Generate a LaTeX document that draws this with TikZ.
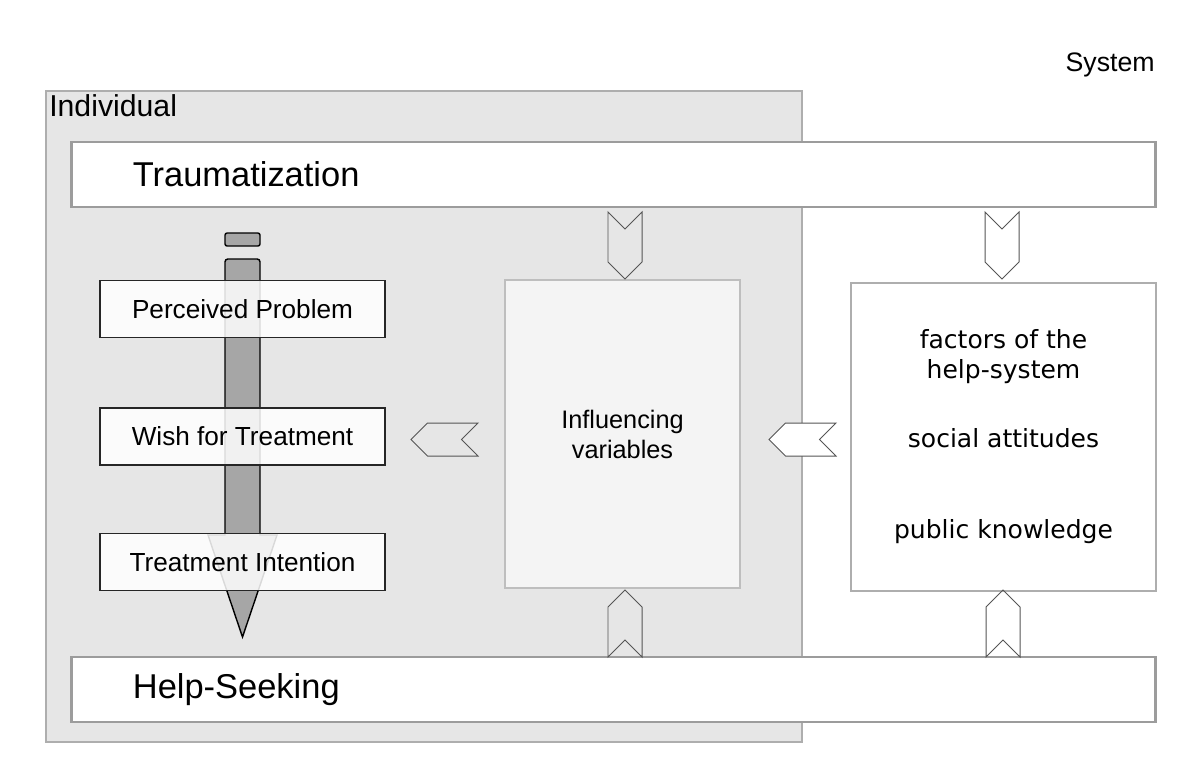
\documentclass[tikz,border=0pt]{standalone}
\usepackage{fontspec}
\setmainfont{Liberation Sans}
\newfontfamily\sysfont{DejaVu Sans}
\usetikzlibrary{shapes.symbols}
\definecolor{indivgray}{HTML}{E6E6E6}
\definecolor{framegray}{HTML}{AEAEAE}
\definecolor{bargray}{HTML}{9C9C9C}
\definecolor{inflgray}{HTML}{F4F4F4}
\definecolor{arrowgray}{HTML}{A6A6A6}
\definecolor{chevgray}{HTML}{555555}
\tikzset{
	frame/.style={draw=framegray,line width=1.3pt},
	bar/.style={draw=bargray,line width=2pt,fill=white,minimum height=1.625cm,
		text width=24.025cm,align=left,inner xsep=1.525cm,inner ysep=0pt,
		font=\fontsize{24.5}{29}\selectfont},
	stage/.style={draw=black!85,line width=1.1pt,fill=white,fill opacity=.85,text opacity=1,
		minimum width=7.125cm,minimum height=1.43cm,inner sep=0pt,
		font=\fontsize{18.6}{21}\selectfont},
	chevron/.style={shape=signal,draw=chevgray,line width=.7pt,inner sep=0pt},
	vchev/.style={chevron,minimum width=.85cm,minimum height=.825cm},
	hchev/.style={chevron,minimum width=1.675cm,minimum height=.825cm}
}
\begin{document}
\begin{tikzpicture}[x=0.025cm,y=-0.025cm]
	\useasboundingbox (0,0) rectangle (1200,779);
	% individual frame
	\node[frame,fill=indivgray,minimum width=18.9cm,minimum height=16.275cm] (indiv) at (424,416.5) {};
	\node[anchor=base west,inner sep=0pt,font=\fontsize{21.5}{24}\selectfont] (indivlabel) at (49,116) {Individual};
	\node[anchor=base east,inner sep=0pt,font=\fontsize{19}{22}\selectfont] (syslabel) at (1155,71) {System};
	% bars
	\node[bar] (trauma) at (613.5,174.5) {Traumatization};
	\node[bar] (help) at (613.5,689.5) {Help-Seeking};
	% stages arrow
	\draw[black,line width=1pt,fill=arrowgray,rounded corners=1.5pt] (225,233) rectangle (260,246);
	\draw[black,line width=1pt,fill=arrowgray] (208,535) -- (225,535) [rounded corners=2pt] -- (225,259) -- (260,259) [sharp corners] -- (260,535) -- (277,535) -- (242.5,637) -- cycle;
	\node[stage] (perc) at (242.5,309) {Perceived Problem};
	\node[stage] (wish) at (242.5,436.5) {Wish for Treatment};
	\node[stage] (intent) at (242.5,562) {Treatment Intention};
	% influencing variables and system factors
	\node[frame,draw=framegray!80,fill=inflgray,minimum width=5.875cm,minimum height=7.7cm,align=center,
		font=\fontsize{18}{21.3}\selectfont] (infl) at (622.5,434) {Influencing\\variables};
	\node[frame,fill=white,minimum width=7.625cm,minimum height=7.7cm,align=center,
		font=\sysfont\fontsize{17.8}{21.3}\selectfont] (sys) at (1003.5,437)
		{factors of the\\help-system\\[27.8pt]social attitudes\\[43.4pt]public knowledge};
	% chevrons
	\node[vchev,signal from=north,signal to=south] (trauma-infl) at (625,245.5) {};
	\node[vchev,signal from=north,signal to=south] (trauma-sys) at (1002,245.5) {};
	\node[vchev,signal from=south,signal to=north] (help-infl) at (625,623.5) {};
	\node[vchev,signal from=south,signal to=north] (help-sys) at (1003,623.5) {};
	\node[hchev,signal from=east,signal to=west] (infl-wish) at (444.5,439.5) {};
	\node[hchev,signal from=east,signal to=west,fill=white] (sys-infl) at (802.5,439.5) {};
\end{tikzpicture}
\end{document}
